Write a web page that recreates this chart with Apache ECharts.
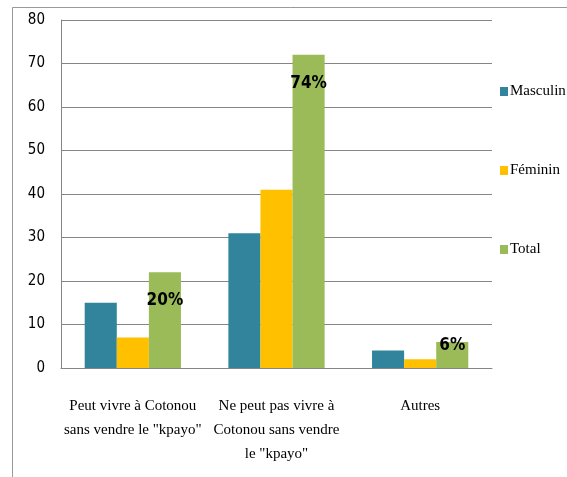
<!DOCTYPE html>
<html><head><meta charset="utf-8">
<script src="https://cdn.jsdelivr.net/npm/echarts@6/dist/echarts.min.js"></script>
<style>html,body{margin:0;padding:0;background:#fff}#c{width:567px;height:477px}</style>
</head><body><div id="c"></div>
<script>
const categories = ['Peut vivre à Cotonou\nsans vendre le "kpayo"', 'Ne peut pas vivre à\nCotonou sans vendre\nle "kpayo"', 'Autres'];
const masculin = [15, 31, 4];
const feminin = [7, 41, 2];
const total = [22, 72, 6];
const totalLabels = ['20%', '74%', '6%'];
const yTicks = [0, 10, 20, 30, 40, 50, 60, 70, 80];

const chart = echarts.init(document.getElementById('c'));
const labelFont = {fontFamily: 'DejaVu Sans Condensed, sans-serif', fontWeight: 'bold', fontSize: 17, color: '#000'};
const labelPos = [{position: 'insideTop', distance: 20}, {position: 'insideTop', distance: 20}, {position: 'insideTop', distance: -5}];
chart.setOption({
  animation: false,
  graphic: [{type: 'rect', shape: {x: 12.5, y: 7.5, width: 600, height: 500}, style: {fill: 'none', stroke: '#999', lineWidth: 1}, silent: true}],
  grid: {left: 61, right: 75, top: 20, bottom: 109},
  legend: {
    orient: 'vertical', left: 495, top: 79, itemWidth: 8, itemHeight: 9, itemGap: 64,
    icon: 'rect',
    textStyle: {fontFamily: 'Liberation Serif, serif', fontSize: 15, color: '#000', padding: [0, 0, 0, -3]},
    data: ['Masculin', 'Féminin', 'Total']
  },
  xAxis: {
    type: 'category', data: categories,
    axisLine: {lineStyle: {color: '#868686'}},
    axisTick: {show: false},
    axisLabel: {interval: 0, margin: 26, fontFamily: 'Liberation Serif, serif', fontSize: 15, lineHeight: 24, color: '#000'}
  },
  yAxis: {
    type: 'value', min: yTicks[0], max: yTicks[yTicks.length - 1], interval: 10,
    axisLine: {show: true, lineStyle: {color: '#868686'}},
    axisTick: {show: false},
    splitLine: {lineStyle: {color: '#868686'}},
    axisLabel: {margin: 16, fontFamily: 'DejaVu Sans Condensed, sans-serif', fontSize: 15, color: '#000'}
  },
  series: [
    {name: 'Masculin', type: 'bar', data: masculin, itemStyle: {color: '#31849B'}, barGap: '0%', barCategoryGap: '33%'},
    {name: 'Féminin', type: 'bar', data: feminin, itemStyle: {color: '#FFC000'}},
    {name: 'Total', type: 'bar', itemStyle: {color: '#9BBB59'},
      data: total.map((v, i) => ({value: v, label: Object.assign({show: true, formatter: totalLabels[i]}, labelFont, labelPos[i])}))}
  ]
});
</script></body></html>
